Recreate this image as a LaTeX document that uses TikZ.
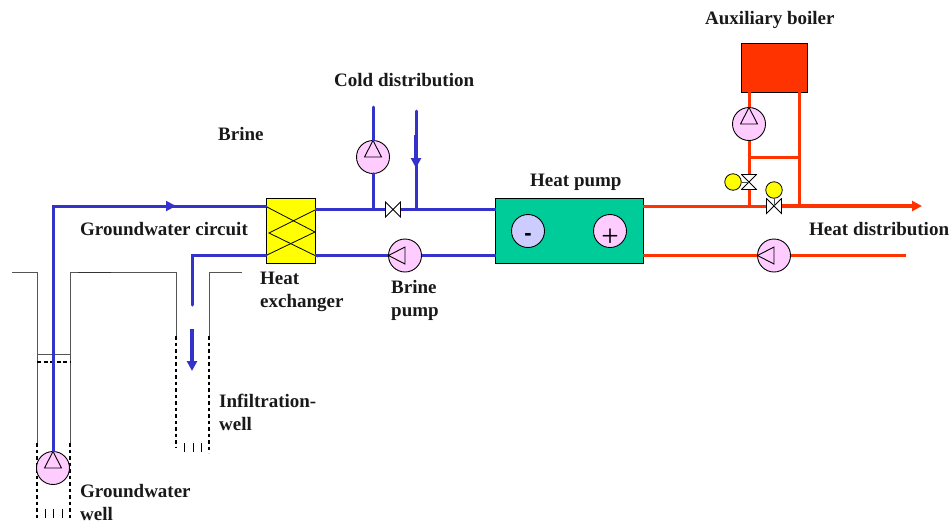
\documentclass[tikz,border=0pt]{standalone}
\usepackage{fontspec}
\setmainfont{Liberation Serif}
\newfontfamily\plusfont{Liberation Sans}
\usetikzlibrary{arrows.meta}
\definecolor{cblue}{HTML}{3333CC}
\definecolor{cred}{HTML}{FF3300}
\definecolor{cgreen}{HTML}{00CC99}
\definecolor{cpink}{HTML}{FFCCFF}
\definecolor{clav}{HTML}{CCCCFF}
\definecolor{cyel}{HTML}{FFFF00}
\definecolor{cgray}{HTML}{555555}
\tikzset{
  x=1pt,y=-1pt,
  lab/.style={anchor=base west,inner sep=0pt,font=\fontsize{19}{22}\selectfont\bfseries,text=black!90},
  pumpbase/.style={circle,draw=black,line width=0.9pt,fill=cpink,minimum size=33pt,inner sep=0pt},
  pumpup/.style={pumpbase,path picture={\draw[line width=0.9pt,line join=miter] (path picture bounding box.center) ++(0pt,16.5pt) -- ++(-8.5pt,-16.5pt) -- ++(17pt,0pt) -- cycle;}},
  pumpleft/.style={pumpbase,path picture={\draw[line width=0.9pt] (path picture bounding box.center) ++(-16.5pt,0pt) -- ++(16.5pt,-8.5pt) -- ++(0pt,17pt) -- cycle;}},
  valveh/.style={minimum size=16pt,inner sep=0pt,path picture={\draw[line width=0.8pt,fill=white] (path picture bounding box.south west)++(.5pt,.5pt) -- ++(15pt,15pt) -- ++(0pt,-15pt) -- ++(-15pt,15pt) -- cycle;}},
  valvev/.style={minimum size=16pt,inner sep=0pt,path picture={\draw[line width=0.8pt,fill=white] (path picture bounding box.south west)++(.5pt,.5pt) -- ++(15pt,15pt) -- ++(-15pt,0pt) -- ++(15pt,-15pt) -- cycle;}},
  sensor/.style={circle,draw=black,line width=0.8pt,fill=cyel,minimum size=16.5pt,inner sep=0pt},
  box/.style={rectangle,draw=black,line width=0.9pt,inner sep=0pt},
  bp/.style={draw=cblue,line width=3pt,line cap=round},
  rp/.style={draw=cred,line width=3pt},
  soil/.style={draw=cgray,line width=1pt},
  screen/.style={draw=black,line width=1.2pt,dash pattern=on 3.5pt off 3pt},
  tick/.style={draw=black,line width=0.7pt},
  tipb/.style={-{Triangle[length=10pt,width=10pt]}},
}
\begin{document}
\begin{tikzpicture}
\useasboundingbox (0,0) rectangle (950,523);

% ground and wells
\coordinate (g1) at (12,272); \coordinate (g2) at (37,272); \coordinate (g3) at (37,443); \coordinate (g4) at (37,518);
\coordinate (g5) at (70,518); \coordinate (g6) at (70,443); \coordinate (g7) at (70,272); \coordinate (g8) at (176,272);
\coordinate (g9) at (176,336); \coordinate (g10) at (176,448); \coordinate (g11) at (209,453); \coordinate (g12) at (209,336);
\coordinate (g13) at (209,272); \coordinate (g14) at (242,272); \coordinate (g15) at (78,272); \coordinate (g16) at (111,272);
\draw[soil] (g1) -- (g2) -- (g3);
\draw[soil] (g6) -- (g7) -- (g8) -- (g9);
\draw[soil] (g12) -- (g13) -- (g14);
\draw[draw=black!80,line width=1pt] (g15) -- (g16);
\draw[screen] (g3) -- (g4);
\draw[screen] (g6) -- (g5);
\draw[screen] (g9) -- (g10);
\draw[screen] (g12) -- (g11);
\coordinate (w1) at (37,354); \coordinate (w2) at (70,354); \coordinate (w3) at (37,362); \coordinate (w4) at (70,362);
\draw[soil] (w1) -- (w2);
\draw[draw=black,line width=1.1pt,dash pattern=on 4pt off 2.5pt] (w3) -- (w4);
\foreach \i/\a/\b/\c in {a/45/509/518,b/53/509/518,c/62/509/518,d/184/443/452,e/193/443/452,f/201/443/452}{
  \coordinate (t\i1) at (\a,\b); \coordinate (t\i2) at (\a,\c);
  \draw[tick] (t\i1) -- (t\i2);
}

% equipment
\node[box,fill=cyel,minimum width=49pt,minimum height=65pt] (hx) at (290.5,230.5) {};
\node[box,fill=cgreen,minimum width=148pt,minimum height=65pt] (hp) at (569.5,230.5) {};
\node[box,fill=cred,minimum width=66pt,minimum height=49pt] (boiler) at (774,67.5) {};
\node[pumpbase,fill=clav] (minus) at (528,231) {\raisebox{-9.5pt}[0pt][0pt]{\plusfont\bfseries\fontsize{22}{22}\selectfont -}};
\node[pumpbase] (plus) at (610,231) {\raisebox{-15pt}[0pt][0pt]{\fontsize{31}{31}\selectfont +}};
\node[pumpup] (pgw) at (53,468) {};
\node[pumpup] (pcold) at (373,157) {};
\node[pumpleft] (pbrine) at (405,255.5) {};
\node[pumpup] (paux) at (749,124) {};
\node[pumpleft] (pheat) at (774,255.5) {};
\node[valveh] (v1) at (393,209.5) {};
\node[valvev] (v2) at (749,182) {};
\node[valveh] (v3) at (774,206) {};
\node[sensor] (s2) at (733,182) {};
\node[sensor] (s3) at (774,190) {};

% heat exchanger cross
\coordinate (x1) at (267,207); \coordinate (x2) at (315,232); \coordinate (x3) at (315,210); \coordinate (x4) at (269,233);
\coordinate (x5) at (318,257); \coordinate (x6) at (267,255);
\draw[black,line width=0.8pt] (x1) -- (x2) -- (x6);
\draw[black,line width=0.8pt] (x3) -- (x4) -- (x5);

% groundwater circuit
\coordinate (gwc) at (53,206); \coordinate (gwa) at (176,206); \coordinate (hxa) at (266,206);
\draw[bp] (pgw.north) -- (gwc) -- (gwa);
\draw[bp] (gwa) -- (hxa);
\draw[draw=cblue,line width=2pt,tipb] (160,206) -- (gwa);
\coordinate (hxb) at (266,255); \coordinate (ic) at (192,255); \coordinate (ie) at (192,305);
\draw[bp] (hxb) -- (ic) -- (ie);
\coordinate (ia1) at (192,329); \coordinate (ia2) at (192,371);
\draw[draw=cblue,line width=3.2pt,tipb] (ia1) -- (ia2);

% brine side
\coordinate (hxc) at (315,209.5); \coordinate (hpc) at (495.5,209.5); \coordinate (jc) at (373,209.5); \coordinate (jd) at (416,209.5);
\draw[draw=cblue,line width=3pt] (hxc) -- (v1.west);
\draw[draw=cblue,line width=3pt] (v1.east) -- (hpc);
\coordinate (ct1) at (373,107); \coordinate (ct2) at (416,111); \coordinate (ct3) at (416,135); \coordinate (ct4) at (416,168);
\draw[bp] (ct1) -- (pcold.north);
\draw[bp] (pcold.south) -- (jc);
\draw[bp] (ct2) -- (jd);
\draw[draw=cblue,line width=3.2pt,tipb] (ct3) -- (ct4);
\coordinate (hxd) at (315,255.5); \coordinate (hpd) at (495.5,255.5);
\draw[draw=cblue,line width=3pt] (hxd) -- (pbrine.west);
\draw[draw=cblue,line width=3pt] (pbrine.east) -- (hpd);

% heat side
\coordinate (hpe) at (643,206); \coordinate (je) at (749,206); \coordinate (jf) at (799,206); \coordinate (tip) at (922,206);
\draw[rp] (hpe) -- (v3.west);
\draw[draw=cred,line width=3.6pt,-{Triangle[length=10pt,width=10pt]}] (v3.east) -- (tip);
\coordinate (hpf) at (643,255.5); \coordinate (endr) at (906,255.5);
\draw[rp] (hpf) -- (pheat.west);
\draw[rp] (pheat.east) -- (endr);
\coordinate (ba) at (749,92); \coordinate (bb) at (799,92); \coordinate (ma) at (749,157); \coordinate (mb) at (799,157);
\draw[rp] (ba) -- (paux.north);
\draw[rp] (paux.south) -- (v2.north);
\draw[rp] (v2.south) -- (je);
\draw[rp] (bb) -- (jf);
\draw[rp] (ma) -- (mb);
\draw[black!70,line width=0.8pt] (s2.east) -- (v2.center);
\draw[black!70,line width=0.8pt] (s3.south) -- (v3.center);

% labels
\node[lab] (l1) at (705,24) {Auxiliary boiler};
\node[lab] (l2) at (334,86) {Cold distribution};
\node[lab] (l3) at (218,140) {Brine};
\node[lab] (l4) at (530,186) {Heat pump};
\node[lab] (l5) at (80,235) {Groundwater circuit};
\node[lab] (l6) at (260,284) {Heat};
\node[lab] (l7) at (260,307) {exchanger};
\node[lab] (l8) at (391,293) {Brine};
\node[lab] (l9) at (391,316) {pump};
\node[lab] (l10) at (809,235) {Heat distribution};
\node[lab] (l11) at (219,407) {Infiltration-};
\node[lab] (l12) at (219,430) {well};
\node[lab] (l13) at (80,497) {Groundwater};
\node[lab] (l14) at (80,520) {well};
\end{tikzpicture}
\end{document}
